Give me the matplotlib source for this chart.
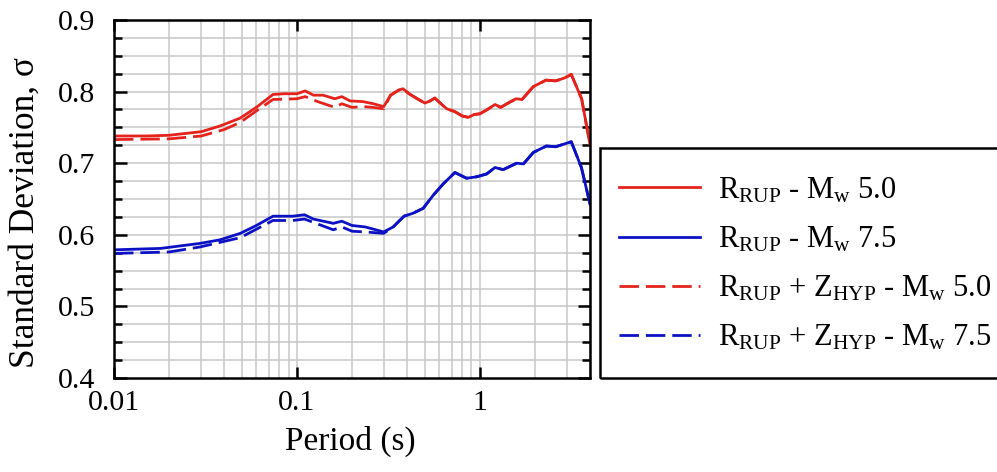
import matplotlib
matplotlib.use("Agg")
import matplotlib.pyplot as plt
import numpy as np
from matplotlib.patches import Rectangle
from matplotlib.ticker import FixedLocator, NullLocator, FixedFormatter

plt.rcParams['font.family'] = ['Liberation Serif', 'DejaVu Serif']
plt.rcParams['mathtext.fontset'] = 'custom'
plt.rcParams['mathtext.rm'] = 'Liberation Serif'
plt.rcParams['mathtext.it'] = 'Liberation Serif:italic'

#Values (period in s, standard deviation)
T_rup5 = [0.01, 0.015, 0.02, 0.03, 0.038, 0.049, 0.06, 0.074, 0.085, 0.1, 0.111, 0.123,
          0.139, 0.161, 0.176, 0.195, 0.23, 0.262, 0.298, 0.325, 0.36, 0.38, 0.41, 0.455,
          0.5, 0.535, 0.567, 0.632, 0.66, 0.73, 0.8, 0.865, 0.93, 1.0, 1.1, 1.21, 1.3,
          1.45, 1.58, 1.7, 1.96, 2.3, 2.6, 2.9, 3.16, 3.6, 4.0]
s_rup5 = [0.738, 0.738, 0.739, 0.744, 0.752, 0.763, 0.778, 0.796, 0.797, 0.797, 0.801, 0.795,
          0.795, 0.790, 0.793, 0.787, 0.786, 0.783, 0.779, 0.795, 0.802, 0.804, 0.797, 0.790,
          0.784, 0.787, 0.791, 0.780, 0.776, 0.772, 0.766, 0.764, 0.768, 0.769, 0.775, 0.782, 0.778,
          0.785, 0.790, 0.789, 0.807, 0.816, 0.815, 0.819, 0.824, 0.790, 0.726]

T_hyp5 = [0.01, 0.02, 0.03, 0.04, 0.049, 0.06, 0.074, 0.1, 0.111, 0.13, 0.161, 0.176,
          0.2, 0.23, 0.26, 0.298, 0.325, 0.36, 0.38, 0.41, 0.455,
          0.5, 0.535, 0.567, 0.632, 0.66, 0.73, 0.8, 0.865, 0.93, 1.0, 1.1, 1.21, 1.3,
          1.45, 1.58, 1.7, 1.96, 2.3, 2.6, 2.9, 3.16, 3.6, 4.0]
s_hyp5 = [0.733, 0.734, 0.738, 0.747, 0.757, 0.773, 0.789, 0.790, 0.793, 0.786, 0.778, 0.783,
          0.778, 0.779, 0.778, 0.776, 0.795, 0.802, 0.804, 0.797, 0.790,
          0.784, 0.787, 0.791, 0.780, 0.776, 0.772, 0.766, 0.764, 0.768, 0.769, 0.775, 0.782, 0.778,
          0.785, 0.790, 0.789, 0.807, 0.816, 0.815, 0.819, 0.824, 0.790, 0.726]

T_rup75 = [0.01, 0.018, 0.0295, 0.038, 0.049, 0.06, 0.074, 0.095, 0.11, 0.123, 0.158, 0.176,
           0.2, 0.236, 0.298, 0.336, 0.385, 0.43, 0.49, 0.555, 0.63, 0.73, 0.846, 0.96,
           1.09, 1.21, 1.34, 1.59, 1.73, 1.96, 2.31, 2.6, 3.16, 3.59, 4.0]
s_rup75 = [0.579, 0.581, 0.588, 0.593, 0.602, 0.613, 0.626, 0.626, 0.628, 0.622, 0.616, 0.619,
           0.613, 0.611, 0.604, 0.611, 0.626, 0.630, 0.637, 0.655, 0.671, 0.687, 0.679, 0.681,
           0.685, 0.694, 0.691, 0.700, 0.699, 0.715, 0.724, 0.723, 0.730, 0.694, 0.643]

T_hyp75 = [0.01, 0.02, 0.0295, 0.049, 0.074, 0.095, 0.11, 0.158, 0.176, 0.2, 0.236, 0.298,
           0.336, 0.385, 0.43, 0.49, 0.555, 0.63, 0.73, 0.846, 0.96,
           1.09, 1.21, 1.34, 1.59, 1.73, 1.96, 2.31, 2.6, 3.16, 3.59, 4.0]
s_hyp75 = [0.574, 0.576, 0.583, 0.596, 0.620, 0.620, 0.622, 0.607, 0.611, 0.605, 0.604, 0.602,
           0.611, 0.626, 0.630, 0.637, 0.655, 0.671, 0.687, 0.679, 0.681,
           0.685, 0.694, 0.691, 0.700, 0.699, 0.715, 0.724, 0.723, 0.730, 0.694, 0.643]

labels = [r'$\mathregular{R_{RUP}}$ - $\mathregular{M_w}$ 5.0',
          r'$\mathregular{R_{RUP}}$ - $\mathregular{M_w}$ 7.5',
          r'$\mathregular{R_{RUP}}$ + $\mathregular{Z_{HYP}}$ - $\mathregular{M_w}$ 5.0',
          r'$\mathregular{R_{RUP}}$ + $\mathregular{Z_{HYP}}$ - $\mathregular{M_w}$ 7.5']

xticks = [0.01, 0.1, 1]
xticklabels = ['0.01', '0.1', '1']
yticks = [0.4, 0.5, 0.6, 0.7, 0.8, 0.9]
yticklabels = ['0.4', '0.5', '0.6', '0.7', '0.8', '0.9']

red = '#e3231c'
blue = '#0c12c4'

fig = plt.figure(figsize=(9.97, 4.72), dpi=100)
ax = fig.add_axes([114/997, 1-378/472, 476/997, 358/472])

ax.set_xscale('log')
ax.set_xlim(0.01, 4.0)
ax.set_ylim(0.4, 0.9)

#grid lines every log minor step and every 0.025 in sigma
xgrid = [k*10.0**e for e in (-2, -1, 0) for k in range(1, 10) if k*10.0**e <= 4.0]
for xg in xgrid:
    ax.axvline(xg, color='#c8c8c8', lw=1.1, zorder=0)
for yg in np.arange(0.425, 0.9, 0.025):
    ax.axhline(yg, color='#c8c8c8', lw=1.1, zorder=0)

ax.plot(T_rup5, s_rup5, color=red, lw=2.0, label=labels[0])
ax.plot(T_rup75, s_rup75, color=blue, lw=2.0, label=labels[1])
ax.plot(T_hyp5, s_hyp5, color=red, lw=2.0, dashes=(7, 2.5), label=labels[2])
ax.plot(T_hyp75, s_hyp75, color=blue, lw=2.0, dashes=(7, 2.5), label=labels[3])

ax.xaxis.set_major_locator(FixedLocator(xticks))
ax.xaxis.set_major_formatter(FixedFormatter(xticklabels))
ax.xaxis.set_minor_locator(NullLocator())
ax.yaxis.set_major_locator(FixedLocator(yticks))
ax.yaxis.set_major_formatter(FixedFormatter(yticklabels))
ax.yaxis.set_minor_locator(FixedLocator(np.arange(0.425, 0.9, 0.025)))

ax.tick_params(axis='both', which='both', direction='in', top=True, right=True, width=1.8)
ax.tick_params(axis='x', which='major', length=8, labelsize=21.5, pad=9)
ax.tick_params(axis='y', which='major', length=9, labelsize=21.5, pad=13.5)
ax.tick_params(axis='y', which='minor', length=6)
for sp in ax.spines.values():
    sp.set_linewidth(1.8)

fig.text(25/997, 1-213/472, 'Standard Deviation, σ', rotation=90, ha='center', va='center', fontsize=25.5)
fig.text(350/997, 1-450/472, 'Period (s)', ha='center', va='baseline', fontsize=24)

#legend box runs off the right edge of the figure
fig.patches.append(Rectangle((600/997, 1-378/472), 0.5, 230/472, transform=fig.transFigure,
                             fill=False, lw=1.8, edgecolor='black', clip_on=False))
ax.legend(loc='center left', bbox_to_anchor=(619/997, 1-264/472), bbox_transform=fig.transFigure,
          frameon=False, fontsize=22, borderpad=0, borderaxespad=0, handlelength=2.65,
          handletextpad=0.6, labelspacing=0.64)

fig.savefig('out.png', dpi=100)
